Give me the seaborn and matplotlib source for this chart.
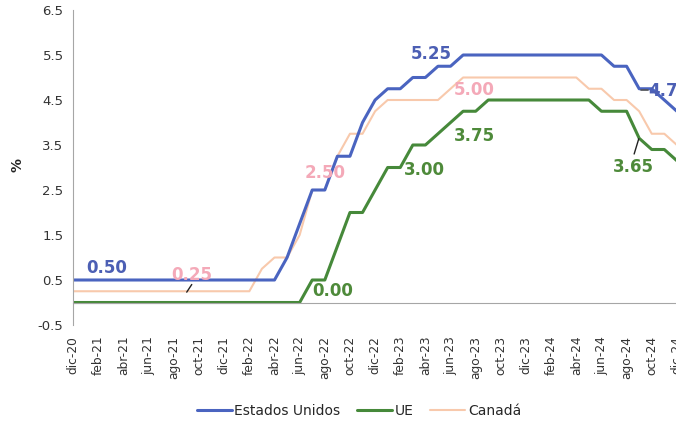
import numpy as np
import pandas as pd
import matplotlib
matplotlib.use("Agg")
import matplotlib.pyplot as plt
import seaborn as sns

sns.set_style("white")
plt.rcParams['font.family'] = ['DejaVu Sans']

# ============================================================
# DATA (monthly, dic-20 .. dic-24)
# ============================================================
eeuu = [0.5] * 17 + [1.0, 1.75, 2.5, 2.5, 3.25, 3.25, 4.0, 4.5, 4.75, 4.75,
                     5.0, 5.0, 5.25, 5.25] + [5.5] * 12 + [5.25, 5.25, 4.75, 4.75, 4.5, 4.25]
ue = [0.0] * 19 + [0.5, 0.5, 1.25, 2.0, 2.0, 2.5, 3.0, 3.0, 3.5, 3.5, 3.75, 4.0,
                   4.25, 4.25] + [4.5] * 9 + [4.25, 4.25, 4.25, 3.65, 3.4, 3.4, 3.15]
canada = [0.25] * 15 + [0.75, 1.0, 1.0, 1.5, 2.5, 2.5, 3.25, 3.75, 3.75, 4.25] + \
         [4.5] * 5 + [4.75] + [5.0] * 10 + [4.75, 4.75, 4.5, 4.5, 4.25, 3.75, 3.75, 3.5]

series_names = ['Estados Unidos', 'UE', 'Canadá']
tick_labels = ['dic-20', 'feb-21', 'abr-21', 'jun-21', 'ago-21', 'oct-21', 'dic-21',
               'feb-22', 'abr-22', 'jun-22', 'ago-22', 'oct-22', 'dic-22', 'feb-23',
               'abr-23', 'jun-23', 'ago-23', 'oct-23', 'dic-23', 'feb-24', 'abr-24',
               'jun-24', 'ago-24', 'oct-24', 'dic-24']
y_ticks = [-0.5, 0.5, 1.5, 2.5, 3.5, 4.5, 5.5, 6.5]

mes = np.arange(len(eeuu))
df = pd.DataFrame({
    'mes': np.tile(mes, 3),
    'tasa': eeuu + ue + canada,
    'pais': np.repeat(series_names, len(mes)),
})

# annotations: (text, x, y, colour)
c_blue, c_green, c_peach = '#4A64C0', '#46893A', '#F8C9AC'
c_blue_t, c_green_t, c_pink_t = '#4C5FB4', '#4E8A3A', '#F4A9B8'
notes = [
    ('0.50', 2.69, 0.77, c_blue_t),
    ('0.25', 9.4, 0.61, c_pink_t),
    ('2.50', 20.0, 2.87, c_pink_t),
    ('0.00', 20.65, 0.26, c_green_t),
    ('3.00', 27.9, 2.94, c_green_t),
    ('5.25', 28.45, 5.52, c_blue_t),
    ('5.00', 31.85, 4.73, c_pink_t),
    ('3.75', 31.87, 3.70, c_green_t),
    ('3.65', 44.56, 3.01, c_green_t),
]

# ============================================================
# PLOT
# ============================================================
fig = plt.figure(figsize=(6.76, 4.23), dpi=100)
px = 12.575  # pixels per month
ax = fig.add_axes([73.3 / 676, 1 - 325 / 423, 50 * px / 676, 315 / 423])

sns.lineplot(data=df, x='mes', y='tasa', hue='pais', hue_order=series_names,
             palette=[c_blue, c_green, c_peach], ax=ax, legend=False)
for line, lw in zip(ax.get_lines(), [2.2, 2.2, 1.5]):
    line.set_linewidth(lw)
ax.get_lines()[2].set_zorder(1)

# spine position first: it resets the tick settings
for s in ['top', 'right']:
    ax.spines[s].set_visible(False)
ax.spines['left'].set_color('#A6A6A6')
ax.spines['bottom'].set_color('#A6A6A6')
ax.spines['bottom'].set_position(('data', 0))

ax.set_xlim(0, 50)
ax.set_ylim(-0.5, 6.5)
ax.set_yticks(y_ticks)
ax.set_yticklabels([f'{v:.1f}' for v in y_ticks])
ax.set_xticks(np.arange(0, len(mes), 2))
ax.set_xticklabels(tick_labels)
ax.set_xlabel('')
ax.set_ylabel('')

ax.tick_params(axis='y', length=4, color='#A6A6A6', labelsize=9.5, labelcolor='#333333', pad=3)
ax.tick_params(axis='x', length=4, color='#A6A6A6', labelsize=8.8, labelcolor='#333333',
               direction='out', pad=20, labelrotation=90)

for txt, x, y, col in notes:
    ax.text(x, y, txt, color=col, fontsize=12, fontweight='bold', ha='center', va='center')
ax.text(45.75, 4.70, '4.75', color=c_blue_t, fontsize=12, fontweight='bold',
        ha='left', va='center')

# leader lines
ax.plot([9.02, 9.42], [0.23, 0.40], color='#222222', lw=1)
ax.plot([44.6, 44.97], [3.30, 3.64], color='#222222', lw=1)
ax.plot([45.15, 45.7], [4.73, 4.73], color='#555555', lw=1.2)

fig.text(17 / 676, 1 - 165 / 423, '%', rotation=90, fontsize=10, fontweight='bold',
         ha='center', va='center', color='#222222')

handles = [plt.Line2D([], [], color=c, lw=w) for c, w in
           zip([c_blue, c_green, c_peach], [2.2, 2.2, 1.5])]
fig.legend(handles, series_names, loc='center', bbox_to_anchor=(359 / 676, 1 - 411 / 423),
           ncol=3, frameon=False, fontsize=10, handlelength=2.5, handletextpad=0.2,
           columnspacing=1.2)

fig.savefig('out.png', dpi=100, facecolor='white')
